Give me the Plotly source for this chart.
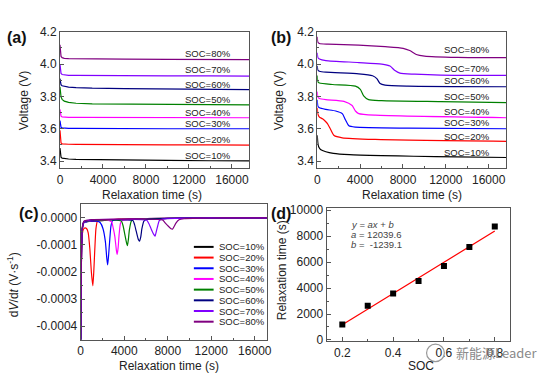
import plotly.graph_objects as go

W, H = 554, 384
FONT = "Liberation Sans, Arial, sans-serif"

soc_labels = ["SOC=10%", "SOC=20%", "SOC=30%", "SOC=40%", "SOC=50%", "SOC=60%", "SOC=70%", "SOC=80%"]
colors = ["#000000", "#ff0000", "#0000ff", "#ff00ff", "#008000", "#000080", "#8000ff", "#800080"]

# ---------------- Panel (a): voltage relaxation ----------------
t_a = [0, 40, 100, 200, 400, 800, 1500, 3000, 6000, 10000, 14000, 18000]
v_a = [
    [3.48, 3.44, 3.424, 3.418, 3.415, 3.413, 3.411, 3.409, 3.406, 3.404, 3.402, 3.401],
    [3.59, 3.53, 3.512, 3.507, 3.505, 3.504, 3.503, 3.502, 3.501, 3.500, 3.500, 3.499],
    [3.65, 3.62, 3.609, 3.606, 3.604, 3.603, 3.602, 3.601, 3.601, 3.600, 3.600, 3.600],
    [3.72, 3.69, 3.678, 3.674, 3.672, 3.671, 3.670, 3.670, 3.669, 3.669, 3.668, 3.668],
    [3.86, 3.82, 3.797, 3.782, 3.771, 3.763, 3.758, 3.754, 3.752, 3.750, 3.749, 3.748],
    [3.91, 3.885, 3.872, 3.866, 3.862, 3.858, 3.855, 3.851, 3.848, 3.845, 3.843, 3.842],
    [4.00, 3.96, 3.942, 3.936, 3.933, 3.931, 3.930, 3.929, 3.928, 3.927, 3.927, 3.926],
    [4.12, 4.07, 4.048, 4.040, 4.036, 4.034, 4.033, 4.032, 4.031, 4.030, 4.029, 4.028],
]
label_y_a = [3.436, 3.535, 3.635, 3.701, 3.779, 3.875, 3.969, 4.065]

# ---------------- Panel (b): voltage relaxation with plateaus ----------------
t_b = [
    [0, 60, 150, 300, 800, 1500, 3000, 6000, 9000, 13000, 18000],
    [0, 60, 200, 490, 774, 950, 1260, 1570, 2330, 5400, 18000],
    [0, 60, 200, 800, 1720, 2330, 2640, 2950, 3560, 8450, 18000],
    [0, 60, 200, 800, 2490, 3255, 3560, 3870, 5400, 18000],
    [0, 60, 200, 1410, 3560, 4020, 4330, 4790, 6000, 11500, 18000],
    [0, 60, 200, 800, 3870, 5160, 5560, 5865, 6330, 8450, 18000],
    [0, 60, 200, 800, 3870, 6020, 6790, 7250, 7710, 9100, 11500, 18000],
    [0, 60, 200, 1000, 3870, 6330, 8015, 8630, 9240, 10010, 13080, 18000],
]
v_b = [
    [3.56, 3.51, 3.485, 3.472, 3.458, 3.448, 3.440, 3.434, 3.430, 3.426, 3.422],
    [3.73, 3.69, 3.672, 3.662, 3.645, 3.632, 3.594, 3.558, 3.544, 3.534, 3.522],
    [3.78, 3.74, 3.730, 3.720, 3.710, 3.694, 3.654, 3.618, 3.610, 3.604, 3.600],
    [3.83, 3.795, 3.787, 3.780, 3.770, 3.744, 3.710, 3.694, 3.684, 3.668],
    [3.93, 3.89, 3.883, 3.874, 3.864, 3.844, 3.804, 3.780, 3.774, 3.768, 3.762],
    [3.99, 3.962, 3.956, 3.950, 3.940, 3.928, 3.910, 3.880, 3.870, 3.864, 3.860],
    [4.07, 4.04, 4.032, 4.022, 4.010, 4.000, 3.988, 3.960, 3.944, 3.938, 3.932, 3.930],
    [4.17, 4.135, 4.128, 4.124, 4.118, 4.108, 4.098, 4.084, 4.060, 4.050, 4.042, 4.040],
]
label_y_b = [3.456, 3.551, 3.641, 3.708, 3.802, 3.898, 3.975, 4.092]

# ---------------- Panel (c): dV/dt ----------------
t_c = [
    [0, 40, 80, 130, 250, 800, 2000, 3500, 6000, 10000, 18000],
    [0, 30, 80, 150, 250, 400, 550, 690, 842, 980, 1116, 1200, 1297, 1400, 1540, 2000, 4000, 8000, 12000, 18000],
    [0, 30, 80, 150, 300, 800, 1500, 1800, 2050, 2265, 2400, 2476, 2560, 2658, 2778, 2930, 3500, 6000, 10000, 18000],
    [0, 30, 80, 150, 300, 1000, 2500, 2839, 3000, 3140, 3280, 3353, 3440, 3534, 3655, 3850, 5000, 8000, 12000, 18000],
    [0, 30, 80, 150, 300, 1000, 3000, 3746, 3900, 4048, 4200, 4290, 4380, 4471, 4653, 4900, 7000, 12000, 18000],
    [0, 30, 80, 150, 300, 1000, 3000, 4805, 4950, 5107, 5300, 5407, 5520, 5624, 5805, 6100, 8000, 12000, 18000],
    [0, 30, 80, 150, 300, 1000, 3000, 6077, 6250, 6467, 6700, 6830, 6950, 7075, 7220, 7500, 9000, 12000, 18000],
    [0, 30, 80, 150, 300, 1000, 3000, 6000, 7528, 7800, 8036, 8300, 8435, 8580, 8734, 9034, 9500, 11000, 13000, 18000],
]
dv_c = [
    [-0.0006, -0.0003, -0.00011, -0.00004, -0.000018, -0.000013, -0.00001, -0.000005, -0.000003, -0.000001, 0.0],
    [-0.00042, -0.0003, -0.00012, -0.00006, -0.000042, -0.000037, -0.00004, -0.000055, -0.000115, -0.0002, -0.000251, -0.0002, -0.000115, -0.00004, -0.000012, -0.000007, -0.000004, -0.000002, 0.0, 0.0],
    [-0.00045, -0.0003, -0.00011, -0.00004, -0.000018, -0.000012, -0.000012, -0.000018, -0.00004, -0.000087, -0.00015, -0.000174, -0.00014, -0.000087, -0.00003, -0.00001, -0.000006, -0.000003, -0.000001, 0.0],
    [-0.00045, -0.0003, -0.00011, -0.00004, -0.000016, -0.00001, -0.000008, -0.000015, -0.00004, -0.00007, -0.00012, -0.000135, -0.00011, -0.00006, -0.00002, -0.000009, -0.000005, -0.000002, 0.0, 0.0],
    [-0.00045, -0.0003, -0.00011, -0.00004, -0.000015, -0.000009, -0.000007, -0.000012, -0.00003, -0.00006, -0.00009, -0.000103, -0.00008, -0.000045, -0.000012, -0.000006, -0.000003, 0.0, 0.0],
    [-0.00045, -0.0003, -0.00011, -0.00004, -0.000014, -0.000008, -0.000006, -0.000010, -0.000025, -0.00005, -0.00008, -0.0000863, -0.00007, -0.00004, -0.000012, -0.000005, -0.000002, 0.0, 0.0],
    [-0.00045, -0.0003, -0.00011, -0.00004, -0.000013, -0.000007, -0.000005, -0.000009, -0.00002, -0.00004, -0.00006, -0.0000675, -0.00005, -0.00003, -0.00001, -0.000004, -0.000002, 0.0, 0.0],
    [-0.00045, -0.0003, -0.00011, -0.00004, -0.000012, -0.000006, -0.000005, -0.000004, -0.000008, -0.00002, -0.00003, -0.00004, -0.0000413, -0.000032, -0.00002, -0.000007, -0.000003, -0.000001, 0.0, 0.0],
]

# ---------------- Panel (d): relaxation time vs SOC ----------------
soc = [0.2, 0.3, 0.4, 0.5, 0.6, 0.7, 0.8]
relax_time = [1196, 2642, 3589, 4536, 5707, 7153, 8748]
fit_a = 12039.6
fit_b = -1239.1
fit_x = [0.2, 0.8]

# ---------------- Figure ----------------
fig = go.Figure()

for i in range(8):
    fig.add_trace(go.Scatter(x=t_a, y=v_a[i], mode="lines", line=dict(color=colors[i], width=1.2),
                             xaxis="x", yaxis="y", showlegend=False))
for i in range(8):
    fig.add_trace(go.Scatter(x=t_b[i], y=v_b[i], mode="lines", line=dict(color=colors[i], width=1.2, shape="spline", smoothing=0.6),
                             xaxis="x2", yaxis="y2", showlegend=False))
for i in range(8):
    fig.add_trace(go.Scatter(x=t_c[i], y=dv_c[i], mode="lines", line=dict(color=colors[i], width=1.2, shape="spline", smoothing=0.5),
                             xaxis="x3", yaxis="y3", showlegend=False))

fig.add_trace(go.Scatter(x=fit_x, y=[fit_a * x + fit_b for x in fit_x], mode="lines",
                         line=dict(color="#ff0000", width=1.2), xaxis="x4", yaxis="y4", showlegend=False))
fig.add_trace(go.Scatter(x=soc, y=relax_time, mode="markers",
                         marker=dict(symbol="square", size=6, color="#000000"),
                         xaxis="x4", yaxis="y4", showlegend=False))


def dom_x(l, r):
    return [l / W, r / W]


def dom_y(top, bottom):
    return [1 - bottom / H, 1 - top / H]


axis_common = dict(showline=True, mirror=True, linecolor="#555555", linewidth=1, ticks="inside",
                   ticklen=4, tickcolor="#555555", showgrid=False, zeroline=False,
                   tickfont=dict(size=12, color="#222222", family=FONT))

time_axis = dict(axis_common, tickvals=[0, 4000, 8000, 12000, 16000],
                 ticktext=["0", "4000", "8000", "12000", "16000"],
                 minor=dict(ticks="inside", ticklen=2, tickcolor="#555555", dtick=2000, tick0=0))

fig.update_layout(
    width=W, height=H, margin=dict(l=0, r=0, t=0, b=0),
    paper_bgcolor="white", plot_bgcolor="white",
    font=dict(family=FONT, color="#222222"),
    xaxis=dict(time_axis, domain=dom_x(57.7, 249.3), range=[0, 17600], anchor="y"),
    yaxis=dict(axis_common, domain=dom_y(25.7, 167), range=[3.355, 4.2], tickvals=[3.4, 3.6, 3.8, 4.0, 4.2],
               ticktext=["3.4", "3.6", "3.8", "4.0", "4.2"], anchor="x",
               minor=dict(ticks="inside", ticklen=2, tickcolor="#555555", dtick=0.1, tick0=3.4)),
    xaxis2=dict(time_axis, domain=dom_x(318.3, 509.7), range=[0, 17640], anchor="y2"),
    yaxis2=dict(axis_common, domain=dom_y(25.7, 167), range=[3.355, 4.2], tickvals=[3.4, 3.6, 3.8, 4.0, 4.2],
                ticktext=["3.4", "3.6", "3.8", "4.0", "4.2"], anchor="x2",
                minor=dict(ticks="inside", ticklen=2, tickcolor="#555555", dtick=0.1, tick0=3.4)),
    xaxis3=dict(time_axis, domain=dom_x(78.7, 267.7), range=[0, 17150], anchor="y3"),
    yaxis3=dict(axis_common, domain=dom_y(204.3, 344.3), range=[-0.00045, 0.00005],
                tickvals=[0, -0.0001, -0.0002, -0.0003, -0.0004],
                ticktext=["0.0000", "-0.0001", "-0.0002", "-0.0003", "-0.0004"], anchor="x3",
                minor=dict(ticks="inside", ticklen=2, tickcolor="#555555", dtick=0.00005, tick0=0)),
    xaxis4=dict(axis_common, domain=dom_x(327.7, 513), range=[0.138, 0.858], tickvals=[0.2, 0.4, 0.6, 0.8],
                ticktext=["0.2", "0.4", "0.6", "0.8"], anchor="y4",
                minor=dict(ticks="inside", ticklen=2, tickcolor="#555555", dtick=0.1, tick0=0.2)),
    yaxis4=dict(axis_common, domain=dom_y(207.7, 346), range=[-100, 10190],
                tickvals=[0, 2000, 4000, 6000, 8000, 10000],
                ticktext=["0", "2000", "4000", "6000", "8000", "10000"], anchor="x4",
                minor=dict(ticks="inside", ticklen=2, tickcolor="#555555", dtick=1000, tick0=0)),
)

ann = []


def paper_text(x, y, text, size=12, angle=0, xanchor="center", bold=False, color="#222222", family=FONT):
    t = "<b>%s</b>" % text if bold else text
    ann.append(dict(x=x / W, y=1 - y / H, xref="paper", yref="paper", text=t, showarrow=False,
                    textangle=angle, xanchor=xanchor, yanchor="middle",
                    font=dict(size=size, color=color, family=family)))


# panel labels
paper_text(14.5, 32, "(a)", size=16, bold=True, color="#111111")
paper_text(281.5, 32, "(b)", size=16, bold=True, color="#111111")
paper_text(26, 214, "(c)", size=16, bold=True, color="#111111")
paper_text(282, 214, "(d)", size=16, bold=True, color="#111111")

# axis titles
paper_text(20.7, 97, "Voltage (V)", angle=-90)
paper_text(279, 97, "Voltage (V)", angle=-90)
paper_text(151, 195, "Relaxation time (s)")
paper_text(414, 195, "Relaxation time (s)")
paper_text(10, 287, "d<i>V</i>/d<i>t</i> (V·s<sup>-1</sup>)", angle=-90)
paper_text(168.3, 372, "Relaxation time (s)")
paper_text(282, 272, "Relaxation time (s)", angle=-90)
paper_text(423.7, 371.3, "SOC")

# SOC labels in (a) and (b)
for i in range(8):
    ann.append(dict(x=13730, y=label_y_a[i], xref="x", yref="y", text=soc_labels[i], showarrow=False,
                    font=dict(size=9.5, color="#222222", family=FONT)))
    ann.append(dict(x=13950, y=label_y_b[i], xref="x2", yref="y2", text=soc_labels[i], showarrow=False,
                    font=dict(size=9.5, color="#222222", family=FONT)))

# manual legend in (c)
shapes = []
for i in range(8):
    yy = 248.3 + i * 11.06
    shapes.append(dict(type="line", xref="paper", yref="paper", x0=193.3 / W, x1=213.3 / W,
                       y0=1 - yy / H, y1=1 - yy / H, line=dict(color=colors[i], width=2)))
    paper_text(216.7, yy, soc_labels[i], size=9.5, xanchor="left")

# fit text in (d)
paper_text(350.3, 224.7, "<i>y</i> = <i>ax</i> + <i>b</i>", size=9.5, xanchor="left", color="#444444")
paper_text(350.3, 235.3, "<i>a</i> = 12039.6", size=9.5, xanchor="left", color="#444444")
paper_text(350.3, 246, "<i>b</i> =  -1239.1", size=9.5, xanchor="left", color="#444444")

# watermark
shapes.append(dict(type="circle", xref="paper", yref="paper", x0=429 / W, x1=447 / W,
                   y0=1 - 367 / H, y1=1 - 349 / H, line=dict(color="#999999", width=1.2)))
paper_text(457, 358, "新能源Leader", size=13, xanchor="left", color="#8a8a8a",
           family="Noto Sans CJK SC, sans-serif")

fig.update_layout(annotations=ann, shapes=shapes)
fig.write_html("out.html", config={"displayModeBar": False},
               post_script="document.body.style.margin='0px';")
